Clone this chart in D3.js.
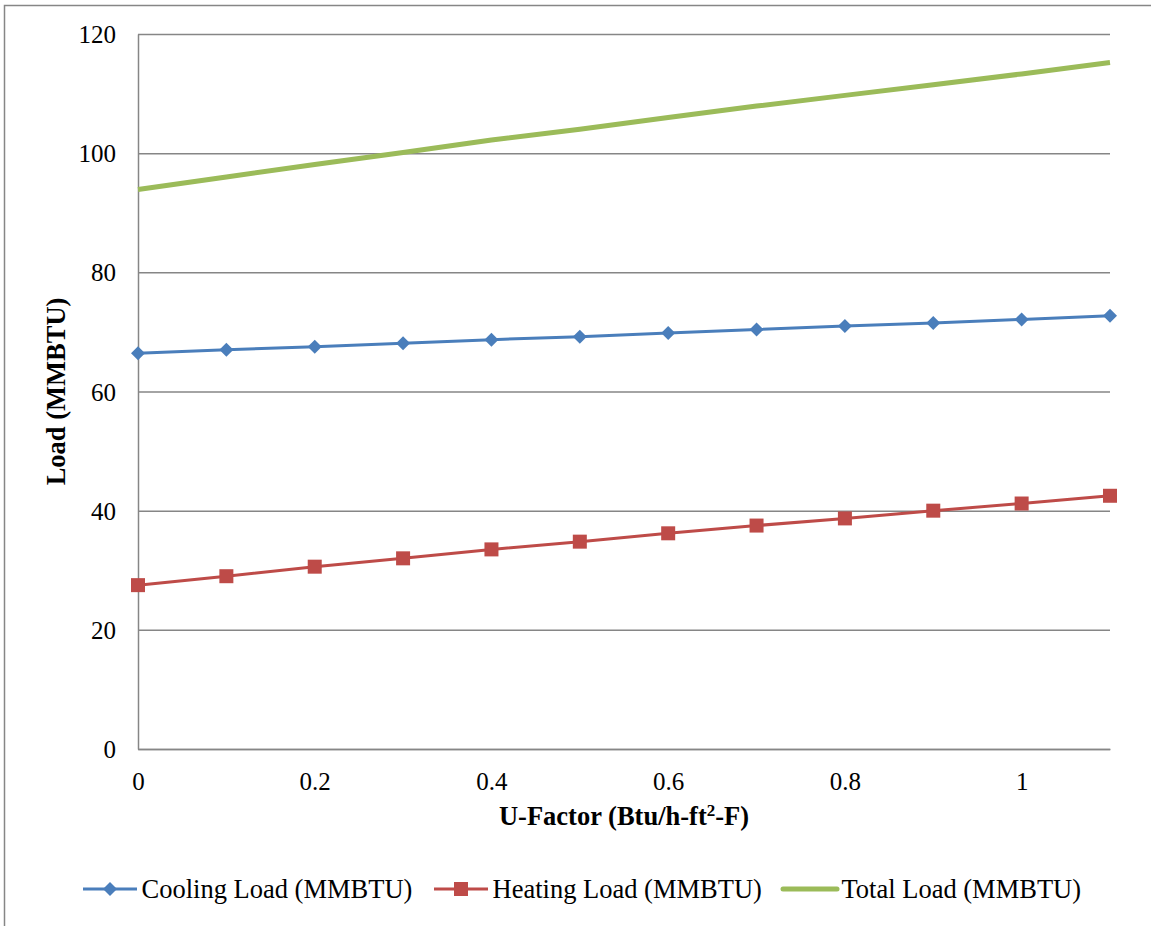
<!DOCTYPE html>
<html>
<head>
<meta charset="utf-8">
<script src="https://cdn.jsdelivr.net/npm/d3@7"></script>
<style>
  body { margin: 0; background: #fff; }
</style>
</head>
<body>
<svg width="1151" height="926"></svg>
<script>
// data
const u_factor = [0, 0.1, 0.2, 0.3, 0.4, 0.5, 0.6, 0.7, 0.8, 0.9, 1.0, 1.1];
const cooling = [66.4, 67.0, 67.5, 68.1, 68.7, 69.2, 69.8, 70.4, 71.0, 71.5, 72.1, 72.7];
const heating = [27.5, 29.0, 30.6, 32.0, 33.5, 34.8, 36.2, 37.5, 38.7, 40.0, 41.2, 42.5];
const total = [93.9, 96.0, 98.1, 100.1, 102.2, 104.0, 106.0, 107.9, 109.7, 111.5, 113.3, 115.2];
const x_ticks = [0, 0.2, 0.4, 0.6, 0.8, 1];
const y_ticks = [0, 20, 40, 60, 80, 100, 120];

const series = [
  { name: "Cooling Load (MMBTU)", values: cooling, color: "#4a7ebb", width: 3, marker: "diamond" },
  { name: "Heating Load (MMBTU)", values: heating, color: "#be4b48", width: 3, marker: "square" },
  { name: "Total Load (MMBTU)", values: total, color: "#9bbb59", width: 5, marker: null }
];

const FONT = "'Liberation Serif', 'Times New Roman', Times, serif";
const margin = { left: 138, right: 41, top: 34, bottom: 177 };
const width = 1151, height = 926;

const svg = d3.select("svg");

// outer frame (right/bottom cut off like the source)
svg.append("rect")
  .attr("x", 4.5).attr("y", 5.5)
  .attr("width", 1200).attr("height", 1000)
  .attr("fill", "none")
  .attr("stroke", "#868686")
  .attr("stroke-width", 1.5);

const x_scale = d3.scaleLinear().domain([0, 1.1]).range([margin.left, width - margin.right]);
const y_scale = d3.scaleLinear().domain([0, 120]).range([height - margin.bottom, margin.top]);

// gridlines
svg.append("g")
  .attr("transform", `translate(${margin.left},0)`)
  .call(d3.axisLeft(y_scale).tickValues(y_ticks).tickSize(-(width - margin.left - margin.right)).tickFormat(""))
  .call(g => g.select(".domain").remove())
  .call(g => g.selectAll("line").attr("stroke", "#868686").attr("stroke-width", 1.5));

// y axis
svg.append("g")
  .attr("transform", `translate(${margin.left},0)`)
  .call(d3.axisLeft(y_scale).tickValues(y_ticks).tickSize(0).tickPadding(22))
  .attr("font-family", null)
  .call(g => g.select(".domain").attr("stroke", "#868686").attr("stroke-width", 1.5))
  .call(g => g.selectAll("text")
    .style("font-family", FONT).style("font-size", "25px")
    .attr("fill", "#000").attr("dy", "0.34em"));

// x axis
svg.append("g")
  .attr("transform", `translate(0,${height - margin.bottom})`)
  .call(d3.axisBottom(x_scale).tickValues(x_ticks).tickSize(0).tickPadding(24).tickFormat(d3.format("")))
  .attr("font-family", null)
  .call(g => g.select(".domain").attr("stroke", "#868686").attr("stroke-width", 1.5))
  .call(g => g.selectAll("text")
    .style("font-family", FONT).style("font-size", "25px")
    .attr("fill", "#000").attr("dy", "0.68em"));

// axis titles
const x_title = svg.append("text")
  .attr("x", (margin.left + width - margin.right) / 2)
  .attr("y", 825)
  .attr("text-anchor", "middle")
  .style("font-family", FONT)
  .style("font-size", "26.5px")
  .style("font-weight", "bold");
x_title.append("tspan").text("U-Factor (Btu/h-ft");
x_title.append("tspan").attr("dy", -9).style("font-size", "17px").text("2");
x_title.append("tspan").attr("dy", 9).text("-F)");

svg.append("text")
  .attr("transform", `translate(65,${(margin.top + height - margin.bottom) / 2}) rotate(-90)`)
  .attr("text-anchor", "middle")
  .style("font-family", FONT)
  .style("font-size", "26.5px")
  .style("font-weight", "bold")
  .text("Load (MMBTU)");

const line_generator = d3.line()
  .x((d, i) => x_scale(u_factor[i]))
  .y(d => y_scale(d));

const diamond = d3.symbol().type(d3.symbolDiamond2).size(125);
const drawMarker = (sel, s, cx, cy) => {
  if (s.marker === "diamond") {
    sel.append("path")
      .attr("d", diamond())
      .attr("transform", `translate(${cx},${cy})`)
      .attr("fill", s.color);
  } else if (s.marker === "square") {
    sel.append("rect")
      .attr("x", cx - 7).attr("y", cy - 7)
      .attr("width", 14).attr("height", 14)
      .attr("fill", s.color);
  }
};

series.forEach(s => {
  svg.append("path")
    .attr("fill", "none")
    .attr("stroke", s.color)
    .attr("stroke-width", s.width)
    .attr("d", line_generator(s.values));
  const g = svg.append("g");
  s.values.forEach((v, i) => drawMarker(g, s, x_scale(u_factor[i]), y_scale(v)));
});

// legend
const legend_x = [83, 434, 783];
const legend_y = 889;
series.forEach((s, i) => {
  const g = svg.append("g").attr("transform", `translate(${legend_x[i]},${legend_y})`);
  g.append("line")
    .attr("x1", 0).attr("x2", 54)
    .attr("stroke", s.color)
    .attr("stroke-width", s.width)
    .attr("stroke-linecap", s.marker ? "butt" : "round");
  drawMarker(g, s, 27, 0);
  g.append("text")
    .attr("x", 58.5)
    .attr("dy", "0.34em")
    .style("font-family", FONT)
    .style("font-size", "26.5px")
    .text(s.name);
});
</script>
</body>
</html>
